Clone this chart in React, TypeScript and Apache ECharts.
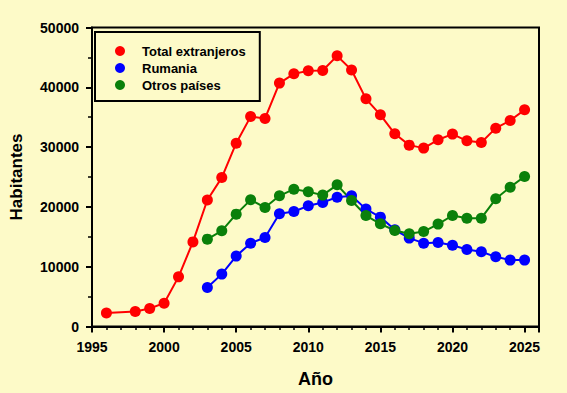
import React, { useEffect, useRef } from "react";
import * as echarts from "echarts";

const totalYears = [1996, 1998, 1999, 2000, 2001, 2002, 2003, 2004, 2005, 2006, 2007, 2008, 2009, 2010, 2011, 2012, 2013, 2014, 2015, 2016, 2017, 2018, 2019, 2020, 2021, 2022, 2023, 2024, 2025];
const totalValues = [2240, 2500, 3000, 3900, 8300, 14150, 21150, 24900, 30650, 35100, 34800, 40700, 42250, 42750, 42800, 45260, 42900, 38070, 35400, 32220, 30330, 29830, 31220, 32170, 31050, 30770, 33170, 34440, 36230];
const subYears = [2003, 2004, 2005, 2006, 2007, 2008, 2009, 2010, 2011, 2012, 2013, 2014, 2015, 2016, 2017, 2018, 2019, 2020, 2021, 2022, 2023, 2024, 2025];
const rumaniaValues = [6520, 8760, 11770, 13940, 14880, 18840, 19230, 20180, 20730, 21630, 21850, 19630, 18290, 16170, 14780, 13940, 14040, 13600, 12870, 12490, 11650, 11100, 11100];
const otrosValues = [14610, 16000, 18790, 21180, 19900, 21850, 22970, 22520, 21970, 23690, 21070, 18560, 17170, 16050, 15500, 15880, 17120, 18560, 18120, 18120, 21350, 23300, 25080];
const seriesNames = ["Total extranjeros", "Rumania", "Otros países"];

const FONT = "'Liberation Sans', Arial, sans-serif";

export default function App() {
  const ref = useRef<HTMLDivElement>(null);
  useEffect(() => {
    if (!ref.current) return;
    const chart = echarts.init(ref.current, undefined, { renderer: "svg" });
    const mk = (name: string, years: number[], vals: number[], color: string) => ({
      name,
      type: "line",
      xAxisIndex: 0,
      data: years.map((y, i) => [y, vals[i]]),
      symbol: "circle",
      symbolSize: 11,
      lineStyle: { color, width: 2 },
      itemStyle: { color },
      z: 3,
    });
    chart.setOption({
      animation: false,
      backgroundColor: "#FDFAC8",
      textStyle: { fontFamily: FONT },
      grid: {
        left: 91,
        right: 28,
        top: 27.5,
        bottom: 66.5,
        show: true,
        borderColor: "#000",
        borderWidth: 2,
        backgroundColor: "transparent",
      },
      legend: {
        orient: "vertical",
        left: 95,
        top: 32,
        padding: [12, 14, 9, 20],
        borderColor: "#000",
        borderWidth: 2,
        itemWidth: 34,
        itemHeight: 10,
        itemGap: 3,
        icon: "circle",
        data: seriesNames,
        textStyle: { fontFamily: FONT, fontWeight: "bold", fontSize: 13, color: "#000", lineHeight: 14 },
      },
      xAxis: [
        {
          type: "value",
          min: 1995,
          max: 2026,
          interval: 5,
          name: "Año",
          nameLocation: "middle",
          nameGap: 43,
          nameTextStyle: { fontFamily: FONT, fontWeight: "bold", fontSize: 18, color: "#000" },
          axisLine: { show: true, lineStyle: { color: "#000", width: 2 } },
          axisTick: { show: true, length: 6, lineStyle: { color: "#000", width: 2 } },
          axisLabel: {
            margin: 13,
            fontFamily: FONT,
            fontWeight: "bold",
            fontSize: 14,
            color: "#000",
            formatter: (v: number) => (v % 5 === 0 ? String(v) : ""),
          },
          splitLine: { show: false },
        },
        {
          type: "value",
          min: 1995,
          max: 2026,
          interval: 1,
          position: "bottom",
          axisLine: { show: false },
          axisTick: { show: true, length: 3.5, lineStyle: { color: "#000", width: 1.5 } },
          axisLabel: { show: false },
          splitLine: { show: false },
        },
      ],
      yAxis: {
        type: "value",
        min: 0,
        max: 50000,
        interval: 10000,
        name: "Habitantes",
        nameLocation: "middle",
        nameGap: 67,
        nameTextStyle: { fontFamily: FONT, fontWeight: "bold", fontSize: 17, color: "#000" },
        axisLine: { show: true, lineStyle: { color: "#000", width: 2 } },
        axisTick: { show: true, length: 6, lineStyle: { color: "#000", width: 2 } },
        minorTick: { show: true, splitNumber: 2, length: 4, lineStyle: { color: "#000", width: 1.5 } },
        axisLabel: {
          margin: 13,
          fontFamily: FONT,
          fontWeight: "bold",
          fontSize: 14,
          color: "#000",
          formatter: (v: number) => String(v),
        },
        splitLine: { show: false },
      },
      series: [
        mk(seriesNames[0], totalYears, totalValues, "#FF0000"),
        mk(seriesNames[1], subYears, rumaniaValues, "#0000FF"),
        mk(seriesNames[2], subYears, otrosValues, "#0A800A"),
      ],
    });
    return () => chart.dispose();
  }, []);
  return <div ref={ref} style={{ width: 567, height: 393, position: "fixed", left: 0, top: 0 }} />;
}
